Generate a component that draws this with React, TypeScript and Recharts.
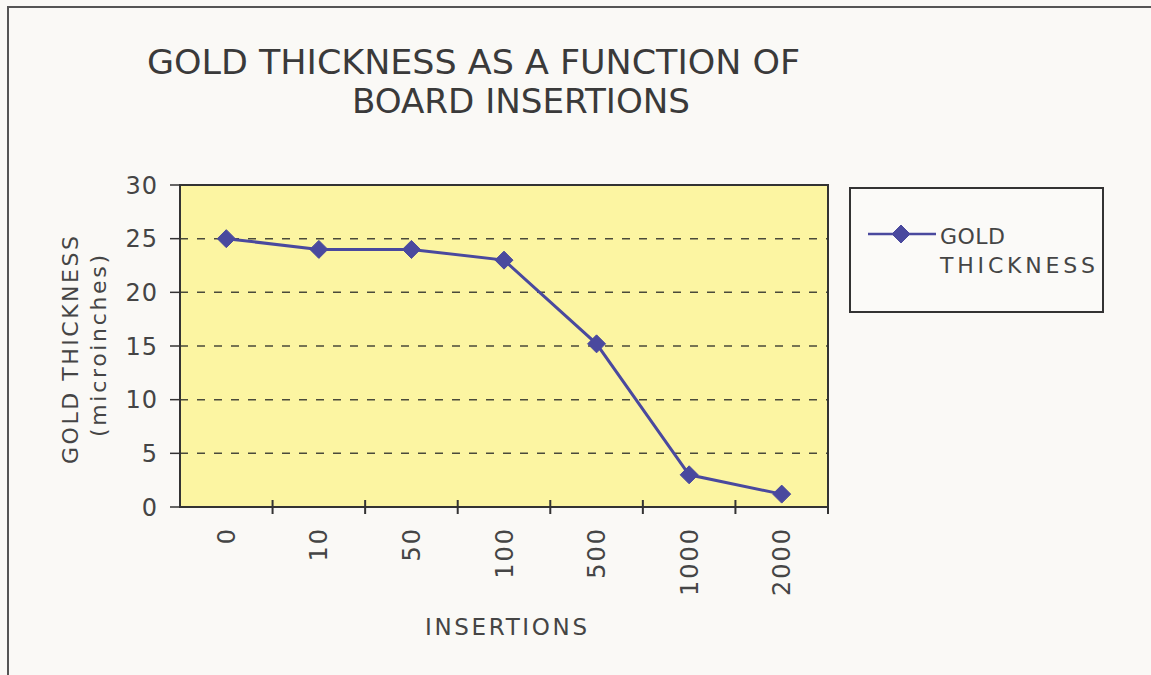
import { CartesianGrid, Line, LineChart, ReferenceArea, XAxis, YAxis } from 'recharts';

const CATEGORIES = ['0', '10', '50', '100', '500', '1000', '2000'];
const THICKNESS = [25, 24, 24, 23, 15.2, 3, 1.2];
const Y_TICKS = [0, 5, 10, 15, 20, 25, 30];
const GRID_VALUES = [5, 10, 15, 20, 25];
const SERIES_NAME = ['GOLD', 'THICKNESS'];
const TITLE_LINES = ['GOLD THICKNESS AS A FUNCTION OF', 'BOARD INSERTIONS'];
const Y_LABEL = ['GOLD  THICKNESS', '(microinches)'];
const X_LABEL = 'INSERTIONS';

const LINE_COLOR = '#4a499e';
const TEXT_COLOR = '#454545';
const FRAME_COLOR = '#333333';
const FONT = '"DejaVu Sans", Verdana, sans-serif';

const data = CATEGORIES.map((insertions, i) => ({ insertions, thickness: THICKNESS[i] }));

function Diamond({ cx, cy }: any) {
  if (cx == null || cy == null) return null;
  const r = 9;
  return (
    <polygon
      points={`${cx},${cy - r} ${cx + r},${cy} ${cx},${cy + r} ${cx - r},${cy}`}
      fill={LINE_COLOR}
      stroke={LINE_COLOR}
    />
  );
}

// Excel-style category ticks sit on the boundaries between categories
function CategoryTick({ x, y, payload, index, visibleTicksCount }: any) {
  const half = payload?.offset ?? 0;
  const axisY = y - 20;
  const isLast = index === (visibleTicksCount ?? CATEGORIES.length) - 1;
  return (
    <g>
      {index > 0 && (
        <line x1={x - half} x2={x - half} y1={axisY - 7} y2={axisY + 7} stroke={FRAME_COLOR} strokeWidth={2} />
      )}
      {isLast && (
        <line x1={x + half} x2={x + half} y1={axisY - 7} y2={axisY + 7} stroke={FRAME_COLOR} strokeWidth={2} />
      )}
      <text
        x={x}
        y={y}
        dy="0.36em"
        transform={`rotate(-90, ${x}, ${y})`}
        textAnchor="end"
        fill={TEXT_COLOR}
        fontSize={24}
        fontFamily={FONT}
        letterSpacing={2}
      >
        {payload.value}
      </text>
    </g>
  );
}

function YAxisTitle({ viewBox }: any) {
  const cy = viewBox.y + viewBox.height / 2 + 4;
  return (
    <g fill={TEXT_COLOR} fontSize={22} fontFamily={FONT}>
      <text
        x={70}
        y={cy}
        transform={`rotate(-90, 70, ${cy})`}
        textAnchor="middle"
        dominantBaseline="central"
        textLength={228}
        lengthAdjust="spacing"
      >
        {Y_LABEL[0]}
      </text>
      <text
        x={98}
        y={cy - 4}
        transform={`rotate(-90, 98, ${cy - 4})`}
        textAnchor="middle"
        dominantBaseline="central"
        textLength={182}
        lengthAdjust="spacing"
      >
        {Y_LABEL[1]}
      </text>
    </g>
  );
}

function XAxisTitle({ viewBox }: any) {
  const cx = viewBox.x + viewBox.width / 2 + 2;
  return (
    <text
      x={cx}
      y={627}
      textAnchor="middle"
      dominantBaseline="central"
      fill={TEXT_COLOR}
      fontSize={23}
      fontFamily={FONT}
      textLength={162}
      lengthAdjust="spacing"
    >
      {X_LABEL}
    </text>
  );
}

function LegendBox() {
  return (
    <div
      style={{
        position: 'absolute',
        left: 849,
        top: 187,
        width: 255,
        height: 126,
        boxSizing: 'border-box',
        border: `2px solid ${FRAME_COLOR}`,
        background: '#fbfaf8',
      }}
    >
      <svg width={251} height={122} style={{ position: 'absolute', left: 0, top: 0 }}>
        <line x1={17} x2={85} y1={45} y2={45} stroke={LINE_COLOR} strokeWidth={2.5} />
        <Diamond cx={50} cy={45} />
        <g fill={TEXT_COLOR} fontSize={22} fontFamily={FONT}>
          <text x={89} y={55} textLength={65} lengthAdjust="spacing">{SERIES_NAME[0]}</text>
          <text x={89} y={84} textLength={155} lengthAdjust="spacing">{SERIES_NAME[1]}</text>
        </g>
      </svg>
    </div>
  );
}

export default function App() {
  return (
    <div
      style={{
        position: 'fixed',
        left: 0,
        top: 0,
        width: 1151,
        height: 675,
        background: '#faf9f6',
        overflow: 'hidden',
      }}
    >
      <div
        style={{
          position: 'absolute',
          left: 7,
          top: 6,
          width: 1200,
          height: 700,
          borderLeft: '2px solid #555',
          borderTop: '2px solid #555',
        }}
      />
      <svg width={1151} height={140} style={{ position: 'absolute', left: 0, top: 0 }}>
        <g
          fill="#3a3a3a"
          fontSize={33}
          fontFamily='"DejaVu Sans Condensed", "Liberation Sans Narrow", sans-serif'
        >
          <text x={147} y={74} textLength={653} lengthAdjust="spacingAndGlyphs">
            {TITLE_LINES[0]}
          </text>
          <text x={352} y={113} textLength={338} lengthAdjust="spacingAndGlyphs">
            {TITLE_LINES[1]}
          </text>
        </g>
      </svg>
      <div style={{ position: 'absolute', left: 0, top: 0 }}>
        <LineChart
          width={1151}
          height={675}
          data={data}
          margin={{ top: 185, right: 323, left: 110, bottom: 68 }}
        >
          <CartesianGrid
            fill="#fcf5a2"
            vertical={false}
            horizontalValues={GRID_VALUES}
            stroke="#4a4a3a"
            strokeDasharray="8 9"
            strokeWidth={1.5}
          />
          <XAxis
            dataKey="insertions"
            scale="band"
            height={100}
            interval={0}
            tickLine={false}
            tickSize={0}
            tickMargin={20}
            axisLine={{ stroke: FRAME_COLOR, strokeWidth: 2 }}
            tick={<CategoryTick />}
            label={{ content: <XAxisTitle /> }}
          />
          <YAxis
            width={70}
            domain={[0, 30]}
            ticks={Y_TICKS}
            interval={0}
            tickSize={10}
            tickMargin={12}
            axisLine={{ stroke: FRAME_COLOR, strokeWidth: 2 }}
            tickLine={{ stroke: FRAME_COLOR, strokeWidth: 1.5 }}
            tick={{ fill: TEXT_COLOR, fontSize: 24, fontFamily: FONT, letterSpacing: 1 }}
            label={{ content: <YAxisTitle /> }}
          />
          <ReferenceArea y1={0} y2={30} fill="none" stroke={FRAME_COLOR} strokeWidth={2} ifOverflow="visible" />
          <Line
            type="linear"
            dataKey="thickness"
            name="GOLD THICKNESS"
            stroke={LINE_COLOR}
            strokeWidth={3}
            dot={<Diamond />}
            activeDot={false}
            isAnimationActive={false}
          />
        </LineChart>
      </div>
      <LegendBox />
    </div>
  );
}
